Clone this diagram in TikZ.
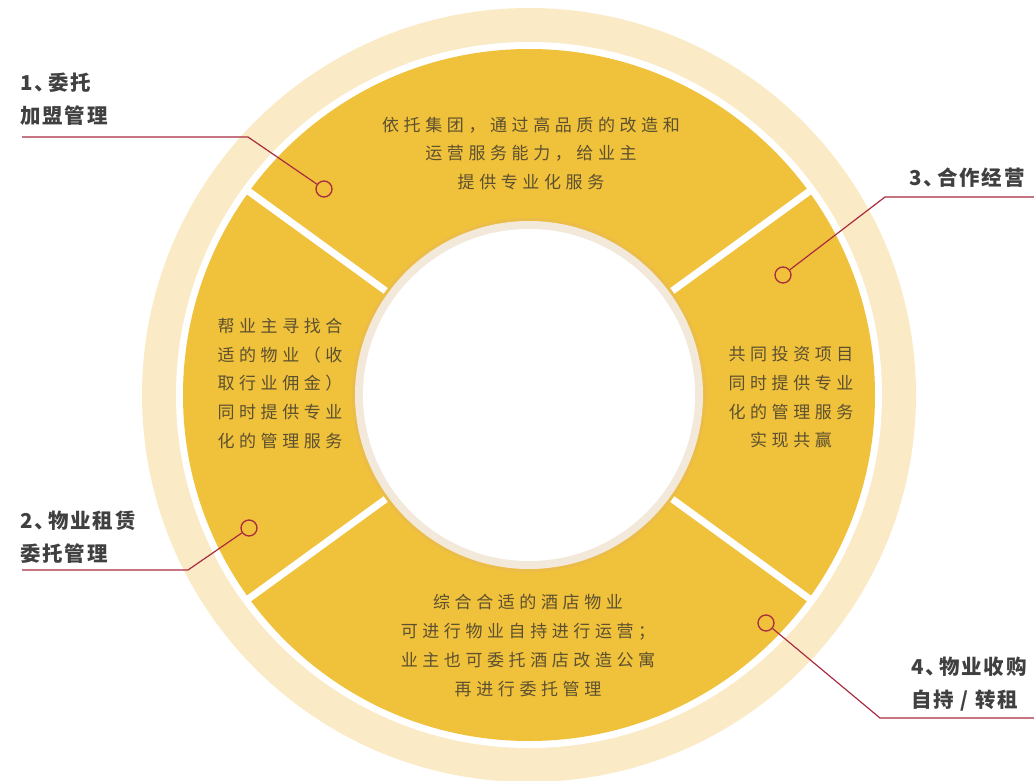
\documentclass[tikz,border=0pt]{standalone}
\usepackage{fontspec}
\newfontfamily\cnfont[LetterSpace=27]{Noto Sans CJK SC}
\newfontfamily\cnbold[LetterSpace=9]{Noto Sans CJK SC}
\usepackage{xcolor}
\usepackage{tikz}
\usetikzlibrary{positioning}

\definecolor{ringpale}{HTML}{FAEBC6}
\definecolor{ringgold}{HTML}{F0C13B}
\definecolor{innerbeige}{HTML}{F2E9DA}
\definecolor{innershade}{HTML}{EBBD48}
\definecolor{pinred}{HTML}{A82B40}
\definecolor{bodytxt}{HTML}{5C5030}
\definecolor{labeltxt}{HTML}{404040}

\newcommand{\dunhao}{、\kern-7pt}

\tikzset{
  segtext/.style={font=\cnfont\fontsize{17}{28.7}\selectfont, text=bodytxt, align=center, inner sep=0pt},
  tagtext/.style={font=\cnbold\bfseries\fontsize{20.5}{33}\selectfont, text=labeltxt, align=left, inner sep=0pt},
  dotring/.style={circle, draw=pinred, line width=1.3pt, minimum size=16pt, inner sep=0pt},
  pinline/.style={draw=pinred, line width=1.2pt},
  divider/.style={white, line width=7pt},
}

\begin{document}
\begin{tikzpicture}[x=1pt, y=-1pt]
        \useasboundingbox (0,0) rectangle (1034,781);
        \coordinate (c) at (529,395);

        % rings
        \fill[ringpale] (c) circle[radius=387pt];
        \fill[white] (c) circle[radius=353pt];
        \fill[ringgold] (c) circle[radius=346pt];
        \foreach \ang in {36, 144, 216, 324}
          \draw[divider] (c) ++(\ang:-150pt) -- ++(\ang:-200pt);
        \fill[innershade] (c) circle[radius=177pt];
        \fill[innerbeige] (c) circle[radius=174pt];
        \fill[white] (c) circle[radius=166pt];

        % segment texts
        \node[segtext] (top) at (531,153.5) {依托集团，通过高品质的改造和\\运营服务能力，给业主\\提供专业化服务};
        \node[segtext] (left) at (280,383.5) {帮业主寻找合\\适的物业（收\\取行业佣金）\\同时提供专业\\化的管理服务};
        \node[segtext] (right) at (791,397.5) {共同投资项目\\同时提供专业\\化的管理服务\\实现共赢};
        \node[segtext] (bottom) at (528,645.5) {综合合适的酒店物业\\可进行物业自持进行运营；\\业主也可委托酒店改造公寓\\再进行委托管理};

        % markers
        \node[dotring] (m1) at (324,189) {};
        \node[dotring] (m2) at (249,528) {};
        \node[dotring] (m3) at (783,275) {};
        \node[dotring] (m4) at (766,623) {};

        \coordinate (k1) at (248,137);  \coordinate (e1) at (22,137);
        \coordinate (k2) at (188,570);  \coordinate (e2) at (22,570);
        \coordinate (k3) at (885,197);  \coordinate (e3) at (1034,197);
        \coordinate (k4) at (880,718);  \coordinate (e4) at (1034,718);

        \foreach \i in {1,2,3,4}
          \draw[pinline] (m\i) -- (k\i) -- (e\i);

        % labels
        \node[tagtext, anchor=west] (t1) at (20,99.5) {1\dunhao 委托\\加盟管理};
        \node[tagtext, anchor=west] (t2) at (20,537.5) {2\dunhao 物业租赁\\委托管理};
        \node[tagtext, anchor=east] (t3) at (1025,178) {3\dunhao 合作经营};
        \node[tagtext, anchor=west] (t4) at (911,684.5) {4\dunhao 物业收购\\自持 / 转租};
      \end{tikzpicture}
\end{document}
